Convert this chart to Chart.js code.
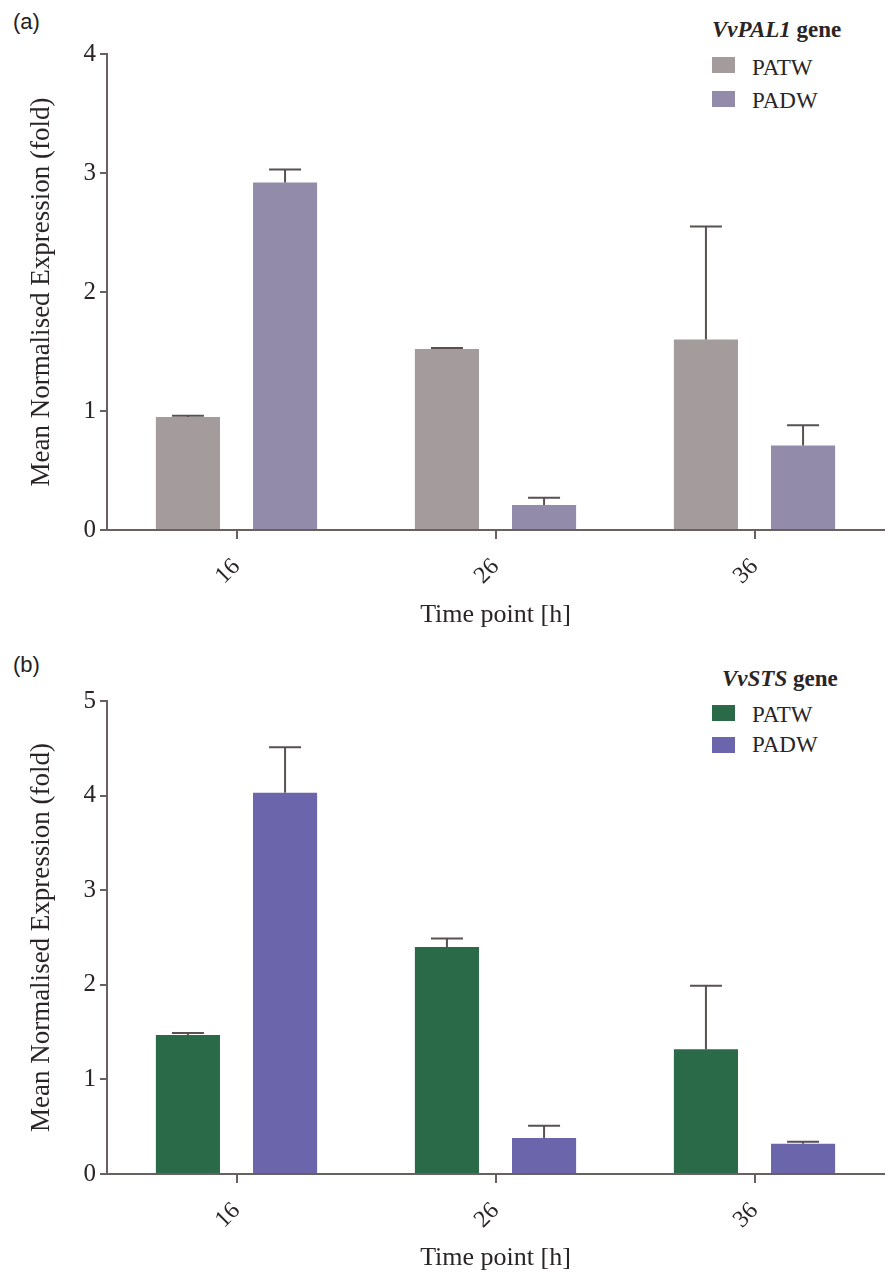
<!DOCTYPE html>
<html>
<head>
<meta charset="utf-8">
<script src="https://cdn.jsdelivr.net/npm/chart.js@4.4.1/dist/chart.umd.min.js"></script>
<style>
  body { margin: 0; background: #fff; width: 888px; height: 1276px; position: relative; overflow: hidden; }
  canvas { position: absolute; left: 0; }
  .tag { position: absolute; left: 13px; font: 22px "Liberation Sans", Arial, sans-serif; line-height: 22px; color: #222; }
  .lg { position: absolute; font: 23px "Liberation Serif", "Times New Roman", serif; line-height: 23px; color: #2a2424; white-space: nowrap; }
  .lg.ttl { font-weight: bold; }
  .sw { position: absolute; width: 23px; height: 16px; }
</style>
</head>
<body>
<div class="tag" style="top:11px">(a)</div>
<div class="tag" style="top:654px">(b)</div>

<div class="lg ttl" style="left:712px;top:18px"><i>VvPAL1</i> gene</div>
<div class="sw" style="left:712px;top:57px;background:#a39b9c"></div>
<div class="lg" style="left:752px;top:56px">PATW</div>
<div class="sw" style="left:712px;top:91px;background:#928caa"></div>
<div class="lg" style="left:752px;top:89px">PADW</div>

<div class="lg ttl" style="left:722px;top:667px"><i>VvSTS</i> gene</div>
<div class="sw" style="left:712px;top:705px;background:#2b6a49"></div>
<div class="lg" style="left:752px;top:703px">PATW</div>
<div class="sw" style="left:712px;top:737px;background:#6b66ab"></div>
<div class="lg" style="left:752px;top:733px">PADW</div>

<canvas id="chartA" width="888" height="640" style="top:0"></canvas>
<canvas id="chartB" width="888" height="636" style="top:640px"></canvas>

<script>
const timePoints = ["16", "26", "36"];

// VvPAL1
const palPATW = [0.95, 1.52, 1.60];
const palPATWErr = [0.01, 0.01, 0.95];
const palPADW = [2.92, 0.21, 0.71];
const palPADWErr = [0.11, 0.06, 0.17];

// VvSTS
const stsPATW = [1.47, 2.40, 1.32];
const stsPATWErr = [0.02, 0.09, 0.67];
const stsPADW = [4.03, 0.38, 0.32];
const stsPADWErr = [0.48, 0.13, 0.02];

const axisColor = "#6a6060";
const textColor = "#2a2424";
const serif = '"Liberation Serif", "Times New Roman", serif';

// draws the upper half of each error bar
const errorBars = {
  id: "errorBars",
  afterDatasetsDraw(chart) {
    const ctx = chart.ctx;
    const yScale = chart.scales.y;
    chart.data.datasets.forEach((ds, i) => {
      const meta = chart.getDatasetMeta(i);
      meta.data.forEach((bar, j) => {
        const top = yScale.getPixelForValue(ds.data[j] + ds.errors[j]);
        ctx.save();
        ctx.strokeStyle = "#5a5050";
        ctx.lineWidth = 2;
        ctx.beginPath();
        ctx.moveTo(bar.x, bar.y);
        ctx.lineTo(bar.x, top);
        ctx.moveTo(bar.x - 16, top);
        ctx.lineTo(bar.x + 16, top);
        ctx.stroke();
        ctx.restore();
      });
    });
  },
};

function makeChart(id, patw, patwErr, padw, padwErr, colors, yMax, padTop, xHeight, xTitlePad) {
  const ctx = document.getElementById(id).getContext("2d");
  return new Chart(ctx, {
    type: "bar",
    data: {
      labels: timePoints,
      datasets: [
        { label: "PATW", data: patw, errors: patwErr, backgroundColor: colors[0], borderWidth: 0 },
        { label: "PADW", data: padw, errors: padwErr, backgroundColor: colors[1], borderWidth: 0 },
      ],
    },
    options: {
      responsive: false,
      animation: false,
      categoryPercentage: 0.75,
      barPercentage: 0.66,
      layout: { padding: { top: padTop, right: 4, left: 0, bottom: 0 } },
      plugins: { legend: { display: false }, tooltip: { enabled: false } },
      scales: {
        x: {
          afterFit: (scale) => { scale.height = xHeight; },
          border: { display: true, color: axisColor, width: 2 },
          grid: { offset: false, drawOnChartArea: false, drawTicks: true, tickLength: 9, color: axisColor, lineWidth: 2 },
          ticks: { minRotation: 45, maxRotation: 45, autoSkip: false, padding: 14, color: textColor, font: { family: serif, size: 24 } },
          title: { display: true, text: "Time point [h]", color: textColor, font: { family: serif, size: 26 }, padding: { top: 0, bottom: xTitlePad } },
        },
        y: {
          min: 0,
          max: yMax,
          afterFit: (scale) => { scale.width = 107; },
          border: { display: true, color: axisColor, width: 2 },
          grid: { drawOnChartArea: false, drawTicks: true, tickLength: 7, color: axisColor, lineWidth: 2 },
          ticks: { stepSize: 1, padding: 4, color: textColor, font: { family: serif, size: 25 } },
          title: { display: true, text: "Mean Normalised Expression (fold)", color: textColor, font: { family: serif, size: 27 }, padding: { top: 26, bottom: 0 } },
        },
      },
    },
    plugins: [errorBars],
  });
}

makeChart("chartA", palPATW, palPATWErr, palPADW, palPADWErr, ["#a39b9c", "#928caa"], 4, 54, 110, 9);
makeChart("chartB", stsPATW, stsPATWErr, stsPADW, stsPADWErr, ["#2b6a49", "#6b66ab"], 5, 61, 102, 2);
</script>
</body>
</html>
